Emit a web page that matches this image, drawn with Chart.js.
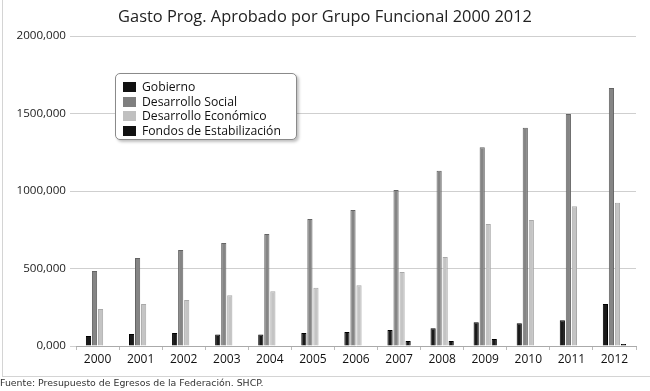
<!DOCTYPE html>
<html>
<head>
<meta charset="utf-8">
<script src="https://cdn.jsdelivr.net/npm/chart.js@4.4.1/dist/chart.umd.min.js"></script>
<style>
  html, body { margin: 0; padding: 0; background: #fff; }
  #wrap { position: relative; width: 650px; height: 391px; overflow: hidden; }
  #frame { position: absolute; left: 2px; top: -2px; width: 660px; height: 379px; border-left: 1px solid #d4d4d4; border-bottom: 1px solid #d4d4d4; box-sizing: border-box; }
  canvas { position: absolute; left: 0; top: 0; }
  #title { position: absolute; left: 0; top: 4px; width: 650px; text-align: center; font-family: "Open Sans", sans-serif; font-size: 16.4px; color: #222; padding-left: 0; }
  #legend { position: absolute; left: 115px; top: 73px; width: 182px; height: 67px; box-sizing: border-box;
    border: 1px solid #8a8a8a; border-radius: 5px; background: #fff; box-shadow: 2px 2px 3px rgba(0,0,0,0.25);
    font-family: "Open Sans", sans-serif; font-size: 12.2px; color: #111; padding: 6px 0 0 7px; }
  #legend .row { height: 14.6px; line-height: 14.6px; white-space: nowrap; }
  #legend .sw { display: inline-block; width: 13px; height: 10px; vertical-align: -1px; margin-right: 6px; }
  #foot { position: absolute; left: 0; top: 377px; font-family: "DejaVu Sans", sans-serif; font-size: 9.4px; color: #333; }
</style>
</head>
<body>
<div id="wrap">
  <div id="frame"></div>
  <canvas id="c" width="650" height="391"></canvas>
  <div id="title"></div>
  <div id="legend"></div>
  <div id="foot">Fuente: Presupuesto de Egresos de la Federación. SHCP.</div>
</div>
<script>
const years = ["2000","2001","2002","2003","2004","2005","2006","2007","2008","2009","2010","2011","2012"];
const gobierno = [65000, 77000, 84000, 75000, 75000, 84000, 90000, 103000, 114000, 153000, 146000, 166000, 271000];
const desarrolloSocial = [484000, 568000, 619000, 665000, 723000, 819000, 877000, 1006000, 1131000, 1282000, 1408000, 1497000, 1665000];
const desarrolloEconomico = [239000, 271000, 297000, 327000, 353000, 376000, 392000, 477000, 574000, 787000, 813000, 901000, 925000];
const fondosEstabilizacion = [0, 0, 0, 0, 0, 0, 0, 32000, 32000, 45000, 0, 0, 13000];
const seriesNames = ["Gobierno", "Desarrollo Social", "Desarrollo Económico", "Fondos de Estabilización"];
const titleText = "Gasto Prog. Aprobado por Grupo Funcional 2000 2012";

const fills = ["#1a1a1a", "#858585", "#c4c4c4", "#1a1a1a"];
const edges = ["#000000", "#646464", "#a9a9a9", "#000000"];
const legendSw = ["#111111", "#7f7f7f", "#c0c0c0", "#111111"];

document.getElementById('title').textContent = titleText;

const seriesData = [gobierno, desarrolloSocial, desarrolloEconomico, fondosEstabilizacion];
const datasets = seriesData.map((d, i) => ({
  label: seriesNames[i],
  data: d,
  backgroundColor: fills[i],
  borderColor: edges[i],
  borderWidth: 1,
  barPercentage: 0.86,
  categoryPercentage: 0.56
}));

new Chart(document.getElementById('c'), {
  type: 'bar',
  data: { labels: years, datasets: datasets },
  options: {
    responsive: false,
    animation: false,
    devicePixelRatio: 1,
    layout: { padding: { left: 0, right: 14, top: 36, bottom: 21 } },
    plugins: {
      legend: { display: false },
      tooltip: { enabled: false },
      title: { display: false }
    },
    scales: {
      x: {
        grid: { display: true, drawOnChartArea: false, offset: true, tickLength: 4, color: '#bbb' },
        border: { color: '#aaa' },
        ticks: { color: '#111', font: { family: 'Open Sans', size: 12 }, padding: 2 },
        afterFit: s => { s.height = 24; }
      },
      y: {
        min: 0, max: 2000000,
        grid: { color: '#cfcfcf', tickLength: 6, drawTicks: true },
        border: { display: false },
        ticks: {
          stepSize: 500000, color: '#222', padding: 4,
          font: { family: 'Open Sans', size: 11.6 },
          callback: v => (v / 1000) + ",000"
        },
        afterFit: s => { s.width = 76; }
      }
    }
  }
});

const lg = document.getElementById('legend');
seriesNames.forEach((n, i) => {
  const r = document.createElement('div');
  r.className = 'row';
  const sw = document.createElement('span');
  sw.className = 'sw';
  sw.style.background = legendSw[i];
  r.appendChild(sw);
  r.appendChild(document.createTextNode(n));
  lg.appendChild(r);
});
</script>
</body>
</html>
